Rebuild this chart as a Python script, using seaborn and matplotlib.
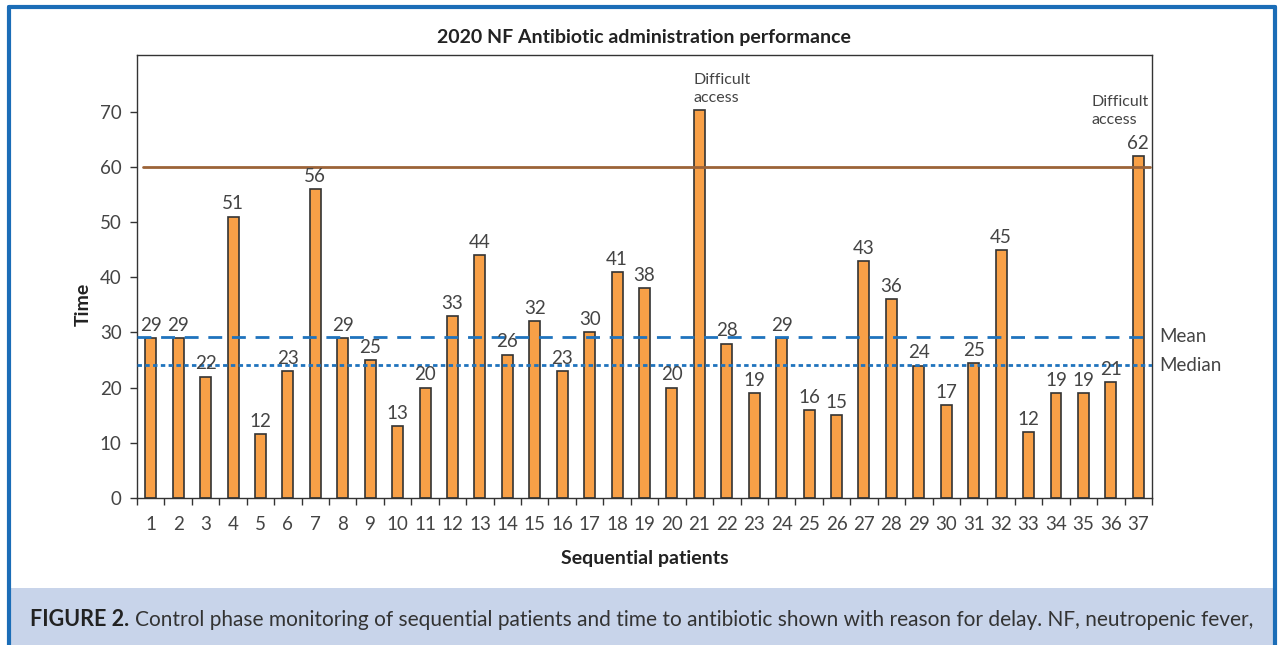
import numpy as np
import pandas as pd
import matplotlib
matplotlib.use("Agg")
import matplotlib.pyplot as plt
import matplotlib.transforms as mtransforms
from matplotlib.patches import Rectangle
from matplotlib.lines import Line2D
import seaborn as sns

# Data
patients = [str(i) for i in range(1, 38)]
labels = [29, 29, 22, 51, 12, 23, 56, 29, 25, 13, 20, 33, 44, 26, 32, 23, 30, 41, 38, 20,
          70, 28, 19, 29, 16, 15, 43, 36, 24, 17, 25, 45, 12, 19, 19, 21, 62]
heights = [29, 29, 22, 51, 11.6, 23, 56, 29, 25, 13, 20, 33, 44, 26, 32, 23, 30, 41, 38, 20,
           70.3, 28, 19, 29, 16, 15, 43, 36, 24, 16.8, 24.5, 45, 12, 19, 19, 21, 62]
notes = {20: "Difficult\naccess", 36: "Difficult\naccess"}
target = 60
mean_val = 29.2
median_val = 24.1

df = pd.DataFrame({"patient": patients, "time": heights})

sns.set_style("white")
plt.rcParams["font.family"] = ["Lato", "DejaVu Sans"]
text_col = "#444444"

fig = plt.figure(figsize=(12.79, 6.45), dpi=100)
ax = fig.add_axes([137 / 1279, 1 - 498 / 645, 1015 / 1279, 443 / 645])

sns.barplot(data=df, x="patient", y="time", order=patients, color="#f8a047",
            saturation=1, width=0.4, edgecolor="#333333", linewidth=1.2, ax=ax)

ax.set_xlim(-0.5, 36.5)
ax.set_ylim(0, 80.3)

# reference lines
ax.axhline(target, xmin=0.006, xmax=0.998, color="#9c6338", lw=2.0, zorder=3)
ax.axhline(mean_val, color="#1f73bd", lw=2.0, ls=(0, (5, 3.5)), zorder=3)
ax.axhline(median_val, color="#1f73bd", lw=2.0, ls=(0, (1.6, 1.2)), zorder=3)
trans = mtransforms.blended_transform_factory(ax.transAxes, ax.transData)
ax.text(1.007, mean_val, "Mean", transform=trans, va="center", ha="left",
        fontsize=13.5, color=text_col)
ax.text(1.007, median_val, "Median", transform=trans, va="center", ha="left",
        fontsize=13.5, color=text_col)

# value labels
for i, (lab, h) in enumerate(zip(labels, heights)):
    if i == 20:
        continue
    ax.annotate(str(lab), (i, h), xytext=(0, 3), textcoords="offset points",
                ha="center", va="bottom", fontsize=13.5, color=text_col)

ax.annotate(notes[20], (19.8, heights[20]), xytext=(0, 4), textcoords="offset points",
            ha="left", va="bottom", fontsize=11.5, color=text_col,
            multialignment="left", linespacing=1.35)
ax.annotate(notes[36], (36.38, heights[36]), xytext=(0, 21), textcoords="offset points",
            ha="right", va="bottom", fontsize=11.5, color=text_col,
            multialignment="left", linespacing=1.35)

# axes styling
for s in ax.spines.values():
    s.set_color("#333333")
    s.set_linewidth(1.0)
    s.set_visible(True)
ax.set_yticks(range(0, 80, 10))
ax.tick_params(axis="y", direction="out", length=5, width=1, color="#333333",
               labelsize=13.5, labelcolor=text_col, pad=6, left=True)
ax.set_xticks(range(37))
ax.set_xticklabels(patients)
ax.set_xticks(np.arange(-0.5, 37, 1), minor=True)
ax.tick_params(axis="x", which="major", length=0, labelsize=13.5, labelcolor=text_col, pad=13)
ax.tick_params(axis="x", which="minor", direction="out", length=5, width=1,
               color="#333333", bottom=True)

ax.set_xlabel("Sequential patients", fontsize=14, fontweight="bold", color="#222222")
ax.set_ylabel("Time", fontsize=14, fontweight="bold", color="#222222")
ax.xaxis.set_label_coords(0.5, -0.118)
ax.yaxis.set_label_coords(-0.045, 0.436)

fig.text(644 / 1279, 1 - 37 / 645, "2020 NF Antibiotic administration performance",
         ha="center", va="center", fontsize=14, fontweight="bold", color="#222222")

# caption band and frame
fig.patches.append(Rectangle((10 / 1279, 0), 1263 / 1279, 57 / 645, transform=fig.transFigure,
                             facecolor="#c8d4ea", edgecolor="none", zorder=0))
frame_kw = dict(transform=fig.transFigure, color="#1b6db7", lw=3.0)
fig.lines.append(Line2D([9 / 1279, 9 / 1279], [0, 1 - 7 / 645], **frame_kw))
fig.lines.append(Line2D([9 / 1279, 1275 / 1279], [1 - 7 / 645, 1 - 7 / 645], **frame_kw))
fig.lines.append(Line2D([1275 / 1279, 1275 / 1279], [0, 1 - 7 / 645], **frame_kw))

cap_y = 1 - 620 / 645
t1 = fig.text(30 / 1279, cap_y, "FIGURE 2.", ha="left", va="center", fontsize=15.5,
              fontweight="bold", color="#222222")
fig.canvas.draw()
bb = t1.get_window_extent(fig.canvas.get_renderer())
fig.text((bb.x1 + 6) / 1279, cap_y,
         "Control phase monitoring of sequential patients and time to antibiotic shown with reason for delay. NF, neutropenic fever,",
         ha="left", va="center", fontsize=15, color="#333333")

fig.savefig("out.png", dpi=100)
